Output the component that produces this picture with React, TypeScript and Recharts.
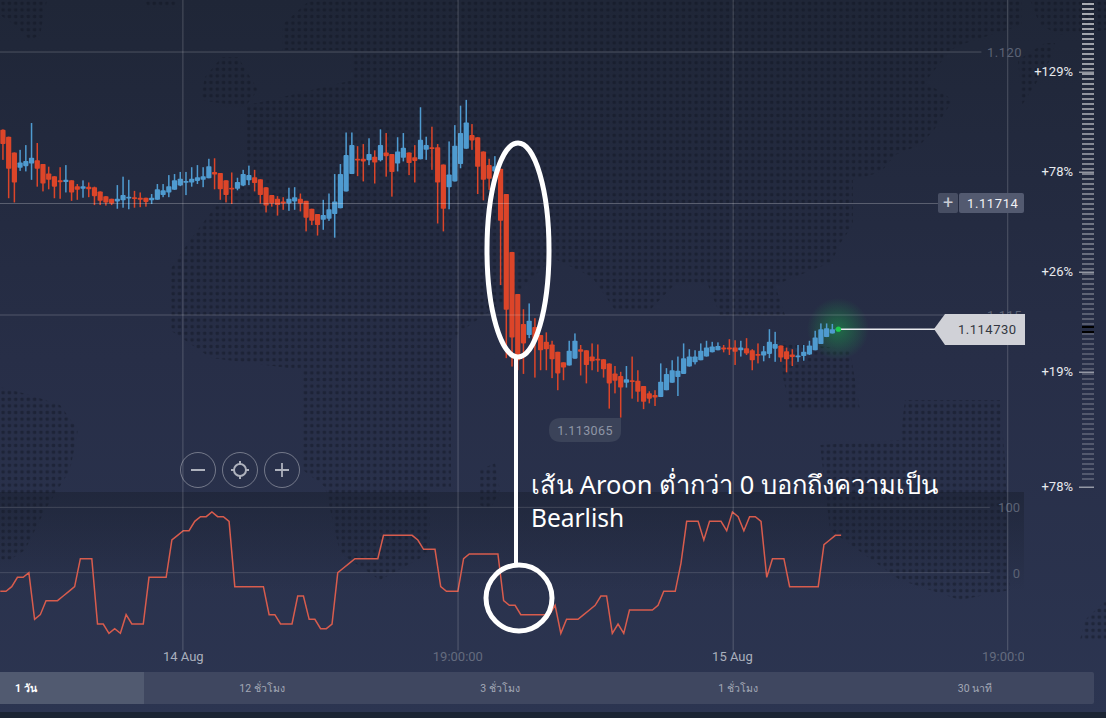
import { Bar, ComposedChart, Line, LineChart, ReferenceDot, ReferenceLine, XAxis, YAxis } from "recharts"

const opens = [
  1.11852, 1.11839, 1.11809, 1.1178, 1.11783, 1.11788, 1.11794, 1.11787, 1.11769, 1.11764,
  1.11756, 1.11753, 1.11756, 1.11745, 1.1174, 1.11744, 1.11743, 1.11735, 1.11726, 1.11721,
  1.11716, 1.11718, 1.11722, 1.11724, 1.11723, 1.11723, 1.11718, 1.11719, 1.11728, 1.11733,
  1.11738, 1.11746, 1.11752, 1.11752, 1.11755, 1.11757, 1.1176, 1.11772, 1.1177, 1.11756,
  1.11742, 1.1174, 1.11746, 1.11756, 1.11762, 1.11758, 1.11743, 1.11728, 1.11721, 1.11716,
  1.11712, 1.11716, 1.11721, 1.11717, 1.11702, 1.11692, 1.11681, 1.11683, 1.11692, 1.11703,
  1.11735, 1.11768, 1.11797, 1.11797, 1.11794, 1.11801, 1.11794, 1.11809, 1.11806, 1.11788,
  1.11799, 1.11809, 1.118, 1.11796, 1.11814, 1.11819, 1.11819, 1.11786, 1.11743, 1.11754,
  1.11787, 1.11816, 1.11842, 1.11838, 1.11811, 1.11785, 1.11773, 1.11778, 1.1173, 1.1162,
  1.1154, 1.11483, 1.11462, 1.11477, 1.11462, 1.11449, 1.11444, 1.1143, 1.1141, 1.11404,
  1.11417, 1.11435, 1.11433, 1.11421, 1.11417, 1.11416, 1.11408, 1.11389, 1.11384, 1.11371,
  1.11376, 1.11375, 1.11365, 1.11351, 1.11348, 1.11344, 1.11357, 1.11371, 1.11382, 1.11388,
  1.11402, 1.1141, 1.11414, 1.11421, 1.11429, 1.11433, 1.11438, 1.11438, 1.11438, 1.11433,
  1.11437, 1.11433, 1.11426, 1.11423, 1.11426, 1.11436, 1.11442, 1.11431, 1.11425, 1.11421,
  1.11422, 1.11425, 1.11433, 1.11445, 1.11458, 1.11465, 1.11472,
]
const closes = [
  1.11825, 1.11778, 1.11752, 1.1179, 1.11793, 1.11799, 1.11778, 1.1175, 1.11757, 1.11744,
  1.11753, 1.11757, 1.11733, 1.11738, 1.11745, 1.11739, 1.11726, 1.11717, 1.11714, 1.11712,
  1.11721, 1.11728, 1.11725, 1.11721, 1.11719, 1.11715, 1.11723, 1.11739, 1.11737, 1.11745,
  1.11756, 1.11759, 1.11755, 1.11759, 1.11762, 1.11764, 1.11783, 1.11767, 1.11739, 1.11728,
  1.11739, 1.11753, 1.11768, 1.11766, 1.11751, 1.11728, 1.11708, 1.11712, 1.11709, 1.11712,
  1.11721, 1.11724, 1.11712, 1.11685, 1.11679, 1.11671, 1.1169, 1.11701, 1.11716, 1.11768,
  1.11804, 1.11823, 1.11795, 1.11792, 1.11806, 1.1179, 1.11823, 1.11802, 1.11772, 1.11811,
  1.11818, 1.11789, 1.11793, 1.11833, 1.11823, 1.11816, 1.11752, 1.11702, 1.11767, 1.11822,
  1.11846, 1.11866, 1.11832, 1.11782, 1.11757, 1.11759, 1.11783, 1.11679, 1.1151, 1.11457,
  1.11414, 1.11446, 1.11489, 1.11452, 1.11433, 1.11435, 1.11416, 1.11389, 1.114, 1.11432,
  1.11451, 1.1143, 1.11405, 1.11412, 1.11414, 1.11397, 1.1137, 1.11375, 1.11362, 1.11378,
  1.11374, 1.11354, 1.11335, 1.11341, 1.11343, 1.11373, 1.11388, 1.11395, 1.11394, 1.11418,
  1.11421, 1.11421, 1.11432, 1.11438, 1.1144, 1.11441, 1.11436, 1.11435, 1.1143, 1.11438,
  1.11427, 1.11414, 1.11424, 1.11431, 1.11449, 1.11445, 1.11419, 1.11416, 1.1142, 1.11423,
  1.1143, 1.11442, 1.11457, 1.11473, 1.11475, 1.11473, 1.11475,
]
const highs = [
  1.11853, 1.11839, 1.11809, 1.11814, 1.11823, 1.11865, 1.11827, 1.11787, 1.11782, 1.11764,
  1.11781, 1.11785, 1.11756, 1.11749, 1.11756, 1.11752, 1.11744, 1.11735, 1.11726, 1.11721,
  1.11747, 1.11763, 1.11757, 1.11736, 1.11733, 1.11723, 1.1173, 1.11749, 1.11749, 1.11766,
  1.11768, 1.11772, 1.11772, 1.11781, 1.11785, 1.11781, 1.11797, 1.11798, 1.1177, 1.11756,
  1.11771, 1.11761, 1.11776, 1.11784, 1.11776, 1.11758, 1.11743, 1.11728, 1.11726, 1.11724,
  1.11742, 1.11743, 1.11731, 1.11717, 1.11702, 1.11692, 1.11719, 1.11731, 1.11768, 1.11787,
  1.11847, 1.11847, 1.11821, 1.11825, 1.11836, 1.11813, 1.11853, 1.11846, 1.11806, 1.11838,
  1.11846, 1.11809, 1.11823, 1.11895, 1.11839, 1.11858, 1.11825, 1.11786, 1.1183, 1.11861,
  1.11898, 1.11909, 1.11863, 1.11838, 1.11811, 1.11797, 1.11802, 1.11778, 1.1173, 1.1162,
  1.1154, 1.11511, 1.11522, 1.11494, 1.11462, 1.11467, 1.11451, 1.1143, 1.1141, 1.11451,
  1.11465, 1.11443, 1.11433, 1.11446, 1.11444, 1.11416, 1.11408, 1.11403, 1.11392, 1.11403,
  1.11421, 1.11395, 1.11365, 1.11355, 1.11357, 1.11408, 1.11399, 1.11414, 1.11421, 1.11446,
  1.11435, 1.11433, 1.11446, 1.11451, 1.11449, 1.11448, 1.11443, 1.11454, 1.11452, 1.11451,
  1.11456, 1.11435, 1.11446, 1.11441, 1.11473, 1.11468, 1.11442, 1.11438, 1.11435, 1.11443,
  1.11443, 1.11451, 1.1147, 1.11484, 1.11484, 1.11483, 1.11475,
]
const lows = [
  1.11795, 1.11722, 1.11714, 1.11774, 1.11773, 1.11757, 1.11744, 1.11735, 1.11739, 1.11722,
  1.11721, 1.11733, 1.11717, 1.11719, 1.11723, 1.11724, 1.11709, 1.11709, 1.11708, 1.11709,
  1.11702, 1.11704, 1.11701, 1.11704, 1.11705, 1.11706, 1.11711, 1.11719, 1.11724, 1.11724,
  1.11738, 1.11745, 1.11728, 1.11744, 1.11749, 1.11743, 1.1176, 1.11739, 1.11719, 1.11714,
  1.11711, 1.11737, 1.11745, 1.11747, 1.11735, 1.11712, 1.11695, 1.11706, 1.11689, 1.117,
  1.11698, 1.117, 1.11697, 1.11659, 1.11671, 1.11651, 1.11662, 1.11679, 1.11647, 1.11703,
  1.11735, 1.11768, 1.11764, 1.11754, 1.11785, 1.1175, 1.11792, 1.11763, 1.11725, 1.11773,
  1.11792, 1.11766, 1.11752, 1.11796, 1.11795, 1.11776, 1.11674, 1.11659, 1.11701, 1.11754,
  1.11779, 1.11816, 1.11814, 1.1173, 1.11718, 1.11738, 1.11763, 1.11557, 1.11418, 1.11402,
  1.11395, 1.11388, 1.11456, 1.11381, 1.11395, 1.11395, 1.1138, 1.11357, 1.11376, 1.11404,
  1.11417, 1.11385, 1.1137, 1.11395, 1.11392, 1.11381, 1.11322, 1.11351, 1.11305, 1.11362,
  1.11341, 1.11335, 1.11321, 1.11332, 1.11327, 1.11344, 1.11357, 1.11371, 1.11346, 1.11388,
  1.11402, 1.11406, 1.11414, 1.11421, 1.11429, 1.11433, 1.11429, 1.11424, 1.11405, 1.11421,
  1.11424, 1.11395, 1.11408, 1.11412, 1.11418, 1.11411, 1.11411, 1.11391, 1.11403, 1.11411,
  1.11413, 1.11424, 1.11433, 1.11445, 1.11458, 1.11465, 1.11472,
]

// Aroon oscillator, 14 periods, first point sits one step before the first candle
const aroon = [
  -28.57, -28.57, -21.43, -7.14, -7.14, 0, -71.43, -64.29, -42.86, -42.86,
  -42.86, -35.71, -28.57, -21.43, 21.43, 21.43, 21.43, -78.57, -78.57, -92.86,
  -85.71, -92.86, -64.29, -78.57, -78.57, -78.57, -7.14, -7.14, -7.14, -7.14,
  50, 57.14, 64.29, 64.29, 78.57, 85.71, 85.71, 92.86, 85.71, 85.71,
  78.57, -21.43, -21.43, -21.43, -21.43, -21.43, -21.43, -64.29, -64.29, -78.57,
  -78.57, -78.57, -35.71, -35.71, -71.43, -71.43, -85.71, -85.71, -78.57, 0,
  7.14, 14.29, 21.43, 21.43, 21.43, 21.43, 21.43, 57.14, 57.14, 57.14,
  57.14, 57.14, 57.14, 50, 35.71, 35.71, 35.71, -21.43, -28.57, -28.57,
  -28.57, 21.43, 28.57, 28.57, 28.57, 28.57, 28.57, 28.57, -42.86, -50,
  -50, -64.29, -64.29, -64.29, -64.29, -64.29, -64.29, -50, -92.86, -71.43,
  -71.43, -71.43, -64.29, -57.14, -50, -35.71, -35.71, -92.86, -78.57, -92.86,
  -57.14, -57.14, -57.14, -57.14, -57.14, -50, -28.57, -28.57, -28.57, 14.29,
  78.57, 78.57, 78.57, 50, 78.57, 78.57, 78.57, 64.29, 92.86, 85.71,
  64.29, 85.71, 85.71, 78.57, -7.14, 21.43, 21.43, 21.43, -21.43, -21.43,
  -21.43, -21.43, -21.43, -21.43, 42.86, 50, 57.14, 57.14,
]

const timeTicks = [31, 79, 127, 175]
const timeLabels = ["14 Aug", "19:00:00", "15 Aug", "19:00:00"]
const priceTicks = [1.115, 1.12]
const aroonTicks = [0, 100]
const tabs = ["1 วัน", "12 ชั่วโมง", "3 ชั่วโมง", "1 ชั่วโมง", "30 นาที"]
const percentLabels = ["+129%", "+78%", "+26%", "+19%", "+78%"]

const candles = opens.map((open, i) => ({
  i,
  open,
  close: closes[i],
  range: [lows[i], highs[i]],
}))
const aroonRows = aroon.map((value, i) => ({ i: i - 1, value }))

const UP = "#4f9bd0"
const DOWN = "#dc4529"
const FONT = "Roboto, sans-serif"

function Candle({ x, y, width, height, payload }: any) {
  const [low, high] = payload.range
  const unit = height / (high - low)
  const top = y + (high - Math.max(payload.open, payload.close)) * unit
  const bodyH = Math.max(Math.abs(payload.open - payload.close) * unit, 1.8)
  const cx = x + width / 2
  const color = payload.close >= payload.open ? UP : DOWN
  return (
    <g>
      <rect x={cx - 0.75} y={y} width={1.5} height={height} fill={color} />
      <rect x={cx - 2.6} y={top} width={5.2} height={bodyH} rx={0.8} fill={color} />
    </g>
  )
}

function PriceTick({ y, payload }: any) {
  return (
    <text x={987} y={y + 5} fill="#5b6274" fontFamily={FONT} fontSize={13} letterSpacing={0.5}>
      {payload.value.toFixed(3)}
    </text>
  )
}

function AroonTick({ y, payload }: any) {
  return (
    <text x={1020} y={y + 5} textAnchor="end" fill="#5b6274" fontFamily={FONT} fontSize={13}>
      {payload.value}
    </text>
  )
}

function TimeTick({ x, y, index }: any) {
  const label = timeLabels[index]
  const dim = label.includes(":")
  // the last label is cut off by the edge of the plot
  return (
    <svg x={x - 40} y={y - 9} width={Math.min(80, 1024 - x + 40)} height={22}>
      <text x={40} y={15} textAnchor="middle" fill={dim ? "#646b7e" : "#aab0bd"} fontFamily={FONT} fontSize={13}>
        {label}
      </text>
    </svg>
  )
}

const landShapes = [
  "0,0 47,0 40,35 30,40 15,25 0,15",
  "145,0 178,0 175,8 148,8",
  "282,25 310,0 1022,0 1022,25 960,45 951,50 941,62 925,82 953,100 934,130 920,145 895,155 881,172 853,180 853,225 839,245 832,262 800,275 775,285 785,315 760,318 720,315 708,285 676,283 650,310 615,310 592,277 553,258 520,290 470,325 451,340 451,487 430,487 430,553 380,580 340,553 325,487 303,470 303,370 211,358 170,330 170,270 190,240 247,165 247,105 270,100 353,80 353,50 282,50",
  "222,57 238,57 258,90 245,107 200,100 205,77",
  "0,387 30,395 60,405 78,430 70,470 45,510 25,550 10,560 0,560",
  "480,470 495,463 500,490 490,510 480,505",
  "820,445 900,440 905,400 1000,400 1005,460 1010,590 960,600 900,580 830,530",
  "775,340 850,350 860,410 790,410",
  "1045,43 1055,43 1050,60 1035,85 1022,105 1018,60",
  "1030,0 1106,0 1106,30 1060,35 1040,25",
  "1085,620 1106,600 1106,640 1080,640",
]

function Backdrop() {
  return (
    <svg width={1106} height={718} style={{ position: "absolute", left: 0, top: 0 }}>
      <defs>
        <linearGradient id="bg" x1="0" y1="0" x2="0" y2="1">
          <stop offset="0" stopColor="#1f2637" />
          <stop offset="0.5" stopColor="#272e47" />
          <stop offset="1" stopColor="#2c3551" />
        </linearGradient>
        <linearGradient id="pane" x1="0" y1="0" x2="0" y2="1">
          <stop offset="0" stopColor="#141a26" stopOpacity={0.4} />
          <stop offset="1" stopColor="#141a26" stopOpacity={0} />
        </linearGradient>
        <radialGradient id="glow">
          <stop offset="0" stopColor="#17c24a" stopOpacity={0.42} />
          <stop offset="1" stopColor="#17c24a" stopOpacity={0} />
        </radialGradient>
        <pattern id="dots" width={6.3} height={6.6} patternUnits="userSpaceOnUse">
          <rect x={1.4} y={1.6} width={3.4} height={3.4} rx={1} fill="#0f1420" fillOpacity={0.42} />
        </pattern>
      </defs>
      <rect width={1106} height={718} fill="url(#bg)" />
      {landShapes.map((points) => (
        <polygon key={points} points={points} fill="url(#dots)" />
      ))}
      <rect x={0} y={492} width={1024} height={100} fill="url(#pane)" />
      <circle cx={838} cy={329} r={31} fill="url(#glow)" />
    </svg>
  )
}

function Overlay() {
  const dashes = []
  for (let y = 3; y < 482; y += 5) {
    if (y === 328) continue
    const opacity = y < 330 ? 0.62 - (y / 330) * 0.4 : 0.2
    dashes.push(<rect key={y} x={1082} y={y} width={12} height={2} fill="#fff" fillOpacity={opacity} />)
  }
  const percentY = [71, 171, 271, 371, 486]
  return (
    <svg width={1106} height={718} style={{ position: "absolute", left: 0, top: 0 }}>
      {/* right hand scale */}
      {dashes}
      <rect x={1082} y={326} width={12} height={2} fill="#000" />
      <rect x={1082} y={331} width={12} height={2} fill="#000" />
      {percentLabels.map((label, i) => (
        <g key={i}>
          <rect x={1079} y={percentY[i] + 0.5} width={15} height={1.5} fill="#fff" fillOpacity={0.5} />
          <text x={1073} y={percentY[i] + 5} textAnchor="end" fill="#e8eaee" fontFamily={FONT} fontSize={13}>
            {label}
          </text>
        </g>
      ))}

      {/* price labels */}
      <rect x={938} y={193} width={20} height={20} rx={2} fill="#474e63" />
      <text x={948} y={209} textAnchor="middle" fill="#c9ccd4" fontFamily={FONT} fontSize={18}>
        +
      </text>
      <rect x={959} y={193} width={65} height={20} rx={2} fill="#535a70" />
      <text x={967} y={208} fill="#f0f1f4" fontFamily={FONT} fontSize={13} letterSpacing={0.6}>
        1.11714
      </text>
      <polygon points="934,329 945,314 1025,314 1025,345 945,345" fill="#d6d7dc" fillOpacity={0.97} />
      <text x={958} y={334} fill="#333640" fontFamily={FONT} fontSize={13} letterSpacing={0.5}>
        1.114730
      </text>
      <path d="M561 418 H621 V431 Q621 442 609 442 H561 Q549 442 549 430 Q549 418 561 418 Z" fill="#3b4359" />
      <text x={585} y={435} textAnchor="middle" fill="#8f96a6" fontFamily={FONT} fontSize={12.5} letterSpacing={0.4}>
        1.113065
      </text>

      {/* zoom buttons */}
      {[198, 240, 282].map((cx) => (
        <circle key={cx} cx={cx} cy={470} r={17.5} fill="none" stroke="#fff" strokeOpacity={0.35} />
      ))}
      <path d="M191 470 H205 M275 470 H289 M282 463 V477" stroke="#aeb2bd" strokeWidth={1.8} fill="none" />
      <circle cx={240} cy={470} r={6} fill="none" stroke="#aeb2bd" strokeWidth={2} />
      <path d="M240 461 V465 M240 475 V479 M231 470 H235 M245 470 H249" stroke="#aeb2bd" strokeWidth={2} />

      {/* annotation */}
      <ellipse cx={518} cy={250} rx={31} ry={107} fill="none" stroke="#fff" strokeWidth={5} />
      <rect x={514} y={357} width={4} height={208} fill="#fff" />
      <circle cx={519} cy={598} r={33} fill="none" stroke="#fff" strokeWidth={5} />
      <text x={531} y={494} fill="#fff" fontFamily="'Noto Sans', 'DejaVu Sans', sans-serif" fontSize={25.5}>
        เส้น Aroon ต่ำกว่า 0 บอกถึงความเป็น
      </text>
      <text x={531} y={527} fill="#fff" fontFamily="'Noto Sans', 'DejaVu Sans', sans-serif" fontSize={24.5}>
        Bearlish
      </text>

      {/* timeframe tabs */}
      <rect x={0} y={672} width={1094} height={32} rx={2} fill="#3f4760" />
      <rect x={0} y={672} width={144} height={32} fill="#515a70" />
      <rect x={0} y={712} width={1106} height={6} fill="#1b2433" />
      {tabs.map((label, i) => (
        <text
          key={label}
          x={[15, 262, 500, 738, 975][i]}
          y={692}
          textAnchor={i === 0 ? "start" : "middle"}
          fill={i === 0 ? "#fff" : "#a3a8b6"}
          fontWeight={i === 0 ? 700 : 400}
          fontFamily={FONT}
          fontSize={10.5}
        >
          {label}
        </text>
      ))}
    </svg>
  )
}

export default function App() {
  const gridX = [31.4, 79.5, 127.6, 175.6]
  const priceBottom = 1.10862
  const priceTop = 1.120989
  return (
    <div style={{ position: "absolute", left: 0, top: 0, width: 1106, height: 718, overflow: "hidden" }}>
      <Backdrop />
      <div style={{ position: "absolute", left: 0, top: 492 }}>
        <LineChart width={1106} height={180} data={aroonRows} margin={{ top: 0, right: 0, bottom: 0, left: 0 }}>
          <XAxis
            dataKey="i"
            type="number"
            domain={[-1.049, 192.31]}
            allowDataOverflow
            ticks={timeTicks}
            interval={0}
            height={25}
            axisLine={false}
            tickLine={false}
            tick={TimeTick}
          />
          <YAxis
            type="number"
            domain={[-113.8, 123.5]}
            allowDataOverflow
            ticks={aroonTicks}
            mirror
            orientation="right"
            axisLine={false}
            tickLine={false}
            tick={AroonTick}
          />
          <ReferenceLine segment={[{ x: -1.049, y: 100 }, { x: 172, y: 100 }]} stroke="#fff" strokeOpacity={0.14} />
          <ReferenceLine segment={[{ x: -1.049, y: 0 }, { x: 172, y: 0 }]} stroke="#fff" strokeOpacity={0.14} />
          <Line dataKey="value" type="linear" stroke="#d85c4d" strokeWidth={1.5} dot={false} isAnimationActive={false} />
        </LineChart>
      </div>
      <div style={{ position: "absolute", left: 0, top: 0 }}>
        <ComposedChart width={1106} height={718} data={candles} margin={{ top: 0, right: 0, bottom: 0, left: 0 }}>
          <XAxis dataKey="i" type="number" domain={[-0.577, 192.78]} allowDataOverflow hide />
          <YAxis
            type="number"
            domain={[1.107338, priceTop]}
            allowDataOverflow
            ticks={priceTicks}
            mirror
            orientation="right"
            axisLine={false}
            tickLine={false}
            tick={PriceTick}
          />
          {gridX.map((x) => (
            <ReferenceLine
              key={x}
              segment={[{ x, y: priceTop }, { x, y: priceBottom }]}
              stroke="#fff"
              strokeOpacity={0.2}
            />
          ))}
          <ReferenceLine segment={[{ x: -0.577, y: 1.12 }, { x: 171, y: 1.12 }]} stroke="#fff" strokeOpacity={0.2} />
          <ReferenceLine segment={[{ x: -0.577, y: 1.115 }, { x: 171, y: 1.115 }]} stroke="#fff" strokeOpacity={0.2} />
          <ReferenceLine segment={[{ x: -0.577, y: 1.11712 }, { x: 163.4, y: 1.11712 }]} stroke="#fff" strokeOpacity={0.25} />
          <ReferenceLine
            segment={[{ x: 146, y: 1.11473 }, { x: 163, y: 1.11473 }]}
            stroke="#e8eaee"
            strokeWidth={1.5}
          />
          <Bar dataKey="range" barSize={5} shape={Candle} isAnimationActive={false} />
          <ReferenceDot x={146} y={1.11473} r={2.6} fill="#1ecb4f" stroke="none" />
        </ComposedChart>
      </div>
      <Overlay />
    </div>
  )
}
